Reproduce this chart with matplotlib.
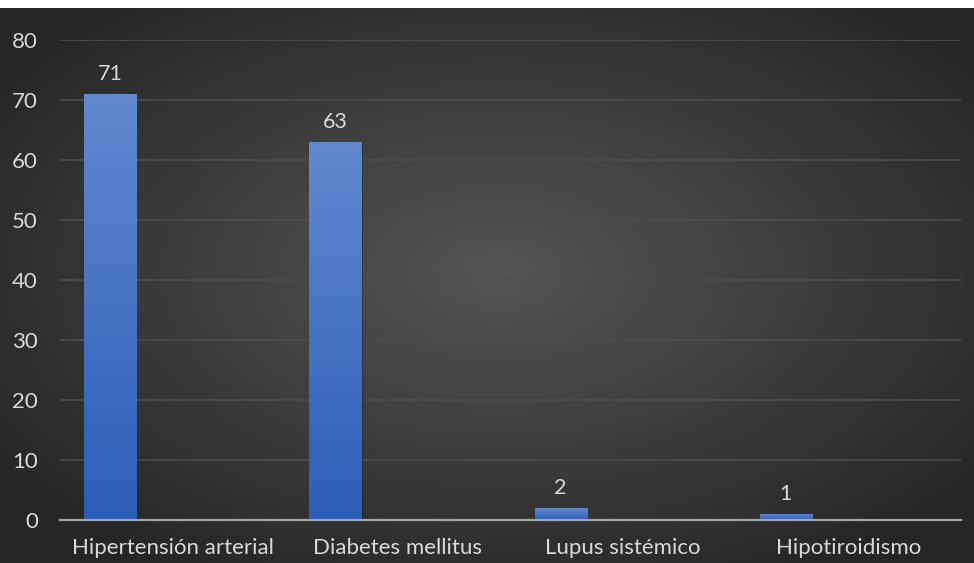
import numpy as np
import matplotlib
matplotlib.use("Agg")
import matplotlib.pyplot as plt
from matplotlib.patches import Rectangle

categories = ["Hipertensión arterial", "Diabetes mellitus", "Lupus sistémico", "Hipotiroidismo"]
values = [71, 63, 2, 1]
y_ticks = [0, 10, 20, 30, 40, 50, 60, 70, 80]

plt.rcParams["font.family"] = ["Lato", "DejaVu Sans"]
text_color = "#d9d9d9"

W, H = 974, 563
fig = plt.figure(figsize=(W / 100, H / 100), dpi=100, facecolor="white")

# dark radial-gradient panel below a thin white strip
bg = fig.add_axes([0, 0, 1, 1 - 8 / H])
bg.set_axis_off()
yy, xx = np.mgrid[0:200, 0:350]
cx, cy = 175 * 1.02, 100 * 0.95
r = np.sqrt(((xx - cx) / 175) ** 2 + ((yy - cy) / 100) ** 2)
r = np.clip(r / 1.25, 0, 1)
inner = np.array([0x55, 0x55, 0x55]) / 255
outer = np.array([0x26, 0x26, 0x26]) / 255
img = inner[None, None, :] * (1 - r[..., None]) + outer[None, None, :] * r[..., None]
bg.imshow(img, aspect="auto", extent=[0, 1, 0, 1], interpolation="bilinear")
bg.set_xlim(0, 1)
bg.set_ylim(0, 1)

# plot area
left, right = 60 / W, 961 / W
bottom, top = 1 - 520 / H, 1 - 40 / H
ax = fig.add_axes([left, bottom, right - left, top - bottom])
ax.patch.set_alpha(0)
n = len(categories)
ax.set_xlim(-0.5, n - 0.5)
ax.set_ylim(0, 80)
ax.set_yticks(y_ticks)
ax.set_yticklabels([str(t) for t in y_ticks])
ax.yaxis.grid(True, color="#4d4d4d", linewidth=1.2)
ax.set_axisbelow(True)
for s in ["top", "right", "left"]:
    ax.spines[s].set_visible(False)
ax.spines["bottom"].set_color("#a6a6a6")
ax.spines["bottom"].set_linewidth(1.6)
ax.spines["bottom"].set_zorder(5)
ax.set_xticks(range(n))
ax.set_xticklabels(categories)
ax.tick_params(axis="both", length=0, colors=text_color, labelsize=16)
ax.tick_params(axis="x", pad=13)
ax.tick_params(axis="y", pad=16)

# bars with vertical gradient fill
bar_w = 0.231
offset = -0.5 + 0.107 + bar_w / 2
grad = np.linspace(0, 1, 256)[:, None]
c_top = np.array([0x62, 0x88, 0xCF]) / 255
c_bot = np.array([0x2D, 0x5E, 0xB8]) / 255
gimg = c_top[None, None, :] * (1 - grad[..., None]) + c_bot[None, None, :] * grad[..., None]
for i, v in enumerate(values):
    x0 = i + offset - bar_w / 2
    # soft shadow
    sh = Rectangle((x0 + 0.006, 0), bar_w, v, facecolor="black", alpha=0.25,
                   edgecolor="none", zorder=2)
    ax.add_patch(sh)
    rect = Rectangle((x0, 0), bar_w, v, facecolor="none", edgecolor="none", zorder=3)
    ax.add_patch(rect)
    im = ax.imshow(gimg, extent=[x0, x0 + bar_w, 0, v], aspect="auto", zorder=3,
                   interpolation="bilinear")
    im.set_clip_path(rect)
    ax.annotate(str(v), (i + offset, v), xytext=(0, 7), textcoords="offset points",
                ha="center", va="bottom", color=text_color, fontsize=15.5)

ax.set_xlim(-0.5, n - 0.5)
ax.set_ylim(0, 80)

fig.savefig("out.png", dpi=100, facecolor="white")
